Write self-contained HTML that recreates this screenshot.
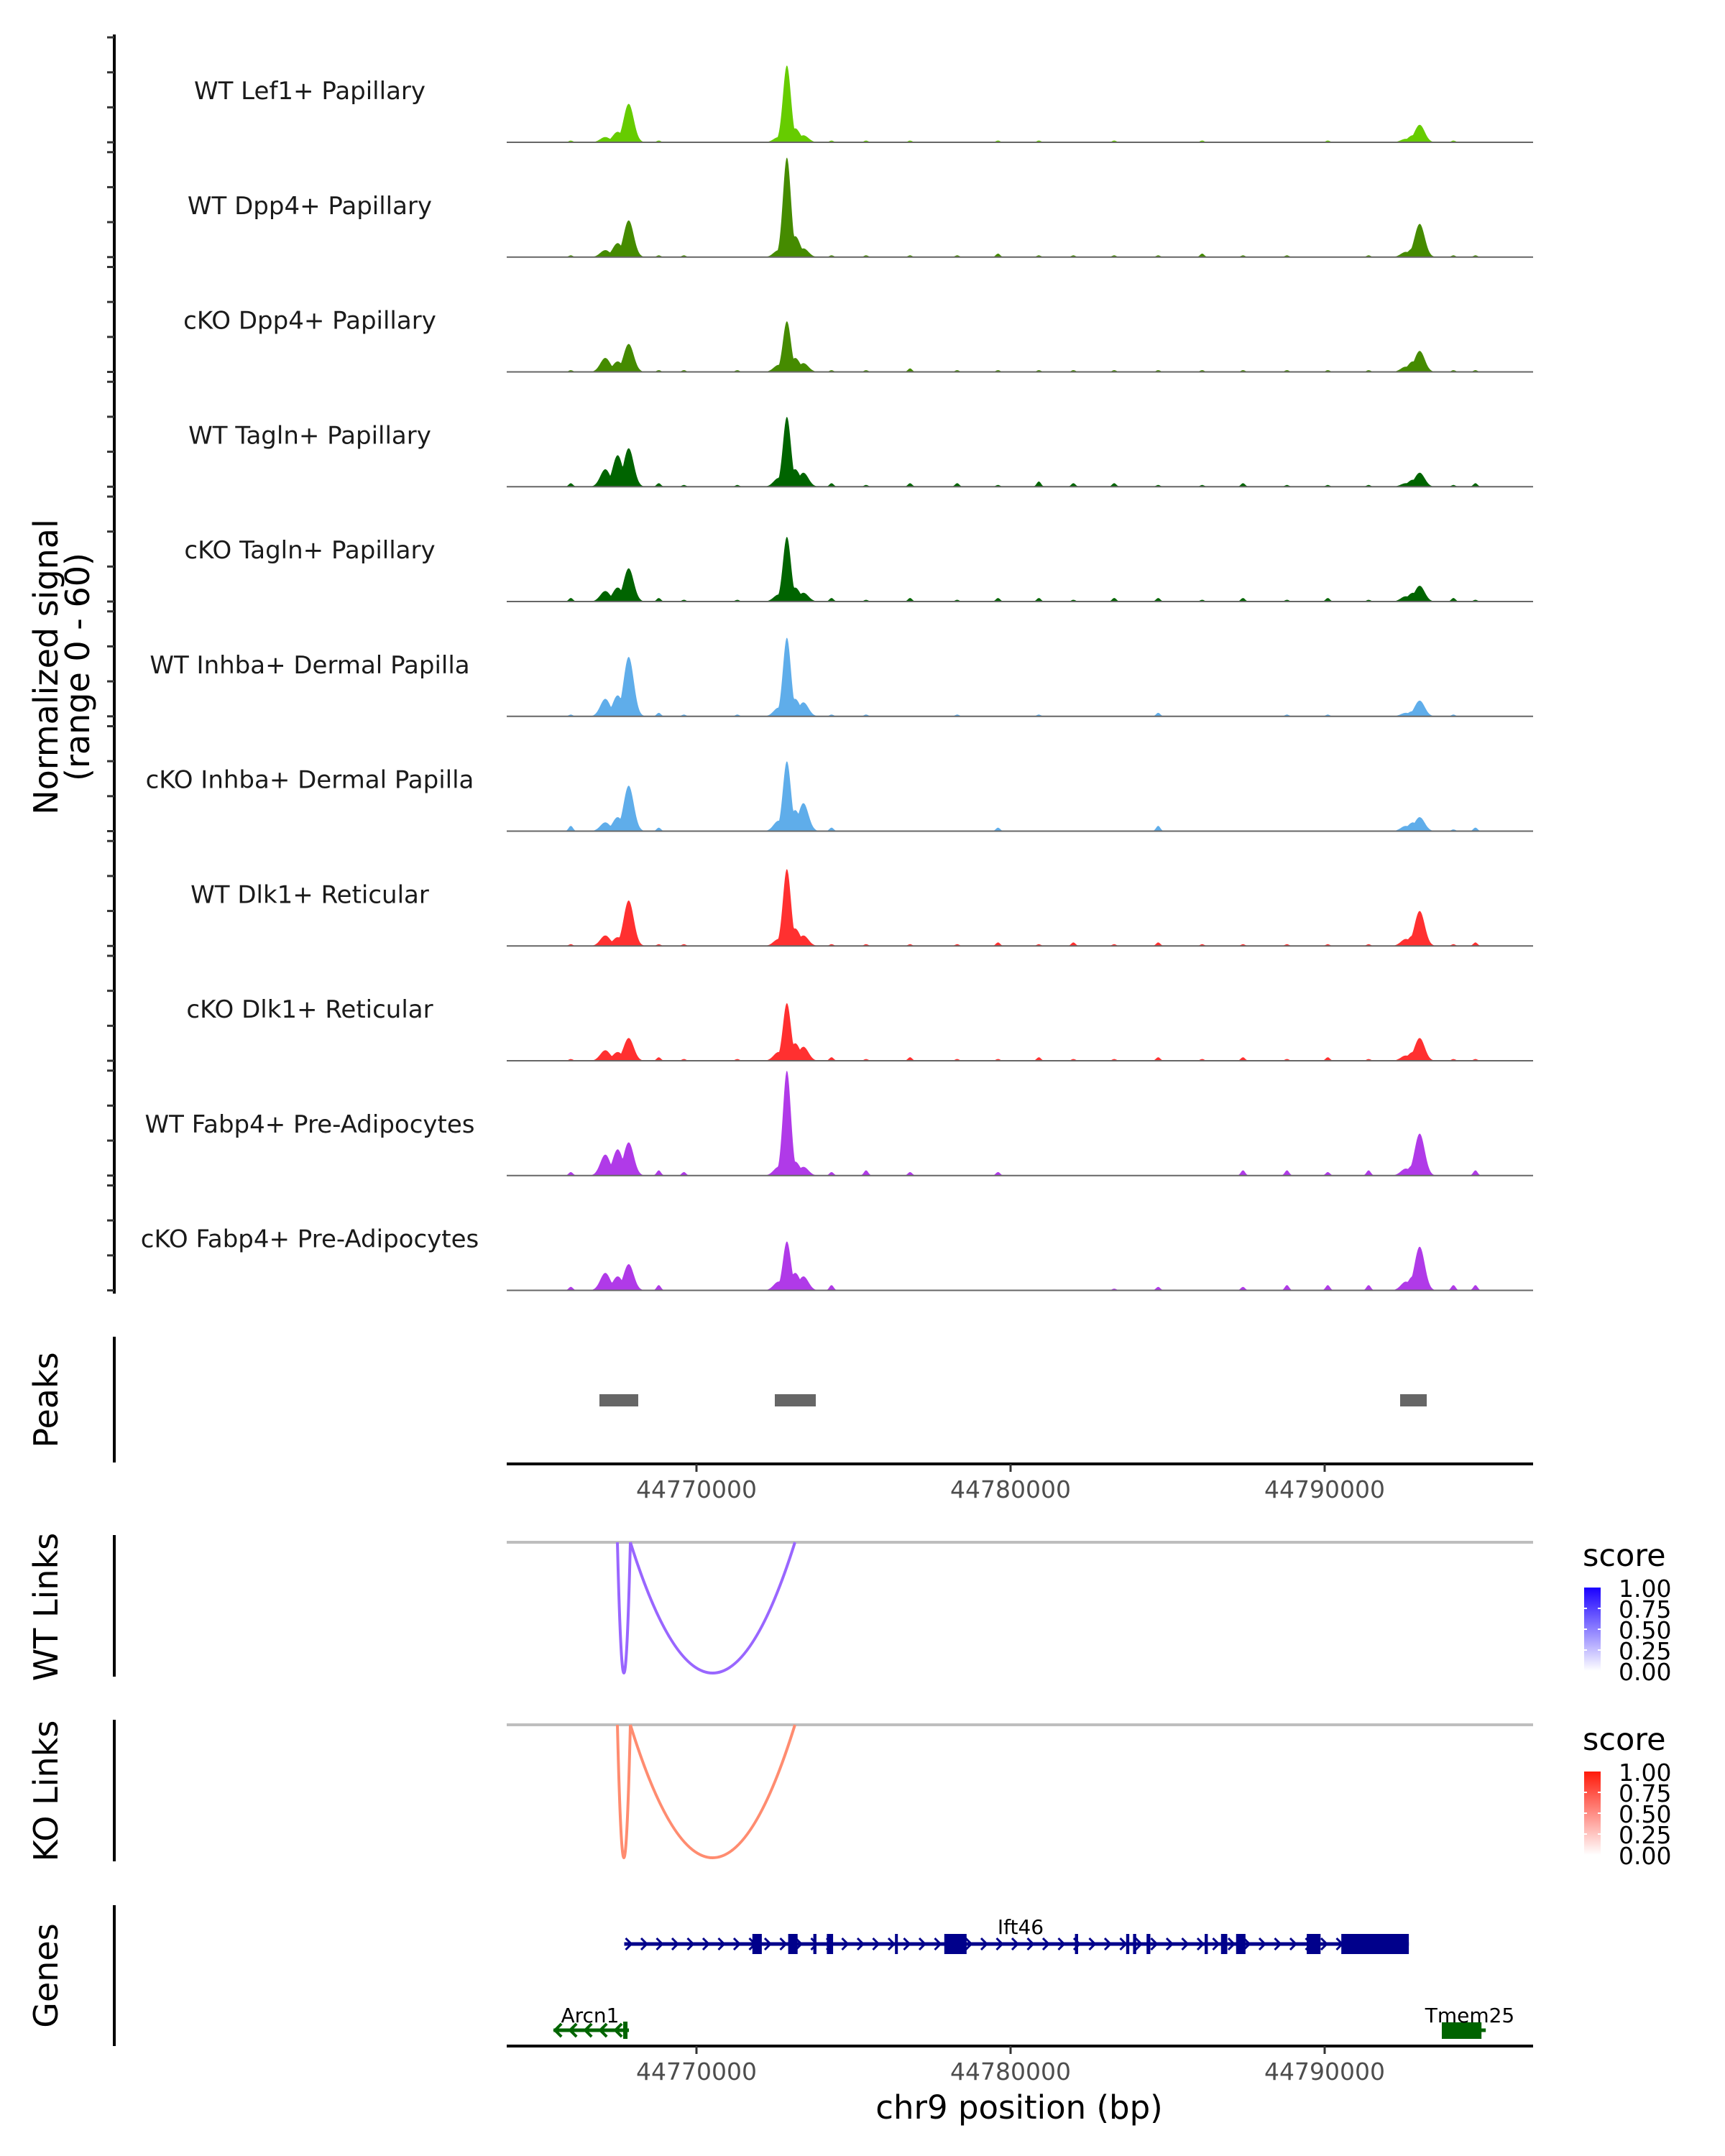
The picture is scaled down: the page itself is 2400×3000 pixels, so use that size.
<!DOCTYPE html>
<html><head><meta charset="utf-8"><style>
html,body{margin:0;padding:0;background:#fff;}
svg{display:block;font-family:"DejaVu Sans","Liberation Sans",sans-serif;}
</style></head><body>
<svg id="chart" width="2400" height="3000" viewBox="0 0 2400 3000" xmlns="http://www.w3.org/2000/svg"></svg>
<script>
const trackNames = ["WT Lef1+ Papillary","WT Dpp4+ Papillary","cKO Dpp4+ Papillary","WT Tagln+ Papillary","cKO Tagln+ Papillary","WT Inhba+ Dermal Papilla","cKO Inhba+ Dermal Papilla","WT Dlk1+ Reticular","cKO Dlk1+ Reticular","WT Fabp4+ Pre-Adipocytes","cKO Fabp4+ Pre-Adipocytes"];
const trackColors = ["#66cc00","#458b00","#458b00","#006400","#006400","#5fadea","#5fadea","#ff3030","#ff3030","#b03ae8","#b03ae8"];
const peakPositions = [44767098,44767492,44767842,44772616,44772879,44773142,44773405,44792586,44792807,44793025];
const peakHeights = [
 [3,6,22,3,44,8,4,2,4,10],
 [4,8,21,4,57,12,5,3,5,19],
 [8,6,16,4,29,8,5,3,6,12],
 [10,18,22,5,40,10,8,2,4,8],
 [6,8,19,4,37,8,5,3,5,9],
 [10,12,34,5,45,10,8,2,3,9],
 [5,8,26,6,40,12,16,3,5,8],
 [6,5,26,4,44,10,6,4,6,20],
 [6,5,13,5,33,10,8,3,5,13],
 [12,15,19,5,60,8,5,4,6,24],
 [10,8,15,5,28,10,8,5,8,25]];
const noisePositions = [44766000,44768800,44769600,44771300,44774300,44775400,44776800,44778300,44779600,44780900,44782000,44783300,44784700,44786100,44787400,44788800,44790100,44791400,44794100,44794800];
const noiseHeights = [
 [1,1,0,0,1,1,1,0,1,1,0,1,0,1,0,0,1,0,1,0],
 [1,1,1,0,1,1,1,1,2,1,1,1,1,2,1,1,0,1,1,1],
 [1,1,1,1,1,1,2,1,1,1,1,1,1,1,1,1,1,1,1,1],
 [2,2,1,1,2,1,2,2,1,3,2,2,1,1,2,1,1,1,1,2],
 [2,2,1,1,2,1,2,1,2,2,1,2,2,1,2,1,2,1,2,1],
 [1,2,1,1,1,1,0,1,0,1,0,0,2,0,0,1,1,0,1,0],
 [3,2,0,0,2,0,0,0,2,0,0,0,3,0,0,0,0,0,1,2],
 [1,1,1,0,1,1,1,1,2,1,2,1,2,1,1,1,1,1,1,2],
 [1,2,1,1,2,1,2,1,1,2,1,1,2,1,2,1,2,1,1,1],
 [2,3,2,0,2,3,2,0,2,0,0,0,0,0,3,3,2,3,0,3],
 [2,3,0,0,3,0,0,0,0,0,0,1,2,0,2,3,3,3,3,3]];
const peakRegions = [[44766911,44768146],[44772494,44773799],[44792403,44793250]];
const wtLinks = [[44767483,44767895,1.0],[44767895,44773135,1.0]];
const koLinks = [[44767483,44767895,1.0],[44767895,44773135,1.0]];
const xTicks = [44770000,44780000,44790000];
const legendTicks = ["1.00","0.75","0.50","0.25","0.00"];
const ift46Exons = [[44771780,44772080],[44772920,44773220],[44773720,44773820],[44774150,44774350],[44776320,44776400],[44777890,44778600],[44782050,44782150],[44783680,44783780],[44783900,44784000],[44784330,44784450],[44786180,44786280],[44786700,44786900],[44787180,44787480],[44789430,44789870],[44790530,44792680]];
const ift46Range = [44767700,44792680];
const arcn1Range = [44765450,44767850];
const tmem25Range = [44793730,44795130];

const svg = document.getElementById('chart');
const NS = "http://www.w3.org/2000/svg";
const X0 = 969, PXBP = 0.0437, PLOT_L = 705, PLOT_R = 2133;
function xs(bp){ return X0 + (bp - 44770000) * PXBP; }
function mk(tag, attrs, parent){ const e = document.createElementNS(NS, tag); for (const k in attrs) e.setAttribute(k, attrs[k]); (parent||svg).appendChild(e); return e; }
function txt(s, attrs, parent){ const e = mk('text', attrs, parent); e.textContent = s; return e; }

const axisG = mk('g', {});


mk('line', {x1:159, y1:48, x2:159, y2:1800, stroke:'#000', 'stroke-width':4}, axisG);

const TRACK_H = 146, BASE0 = 198, STEP = 159.75;
function ys(v, i){ return BASE0 + i*STEP - v/60*TRACK_H; }
for (let i = 0; i < trackNames.length; i++) {
  const g = mk('g', {});
  
  
  for (let k = 0; k <= 3; k++) {
    const ty = ys(k*20, i);
    mk('line', {x1:149, y1:ty, x2:159, y2:ty, stroke:'#333', 'stroke-width':3}, axisG);
  }
  let d = 'M' + PLOT_L + ',' + ys(0,i);
  for (let x = PLOT_L; x <= PLOT_R; x += 1) {
    let h = 0;
    for (let p = 0; p < peakPositions.length; p++) {
      const s = (p === 4) ? 5.5 : 7;
      const dx = (x - xs(peakPositions[p])) / s;
      h = Math.max(h, peakHeights[i][p] * Math.exp(-dx*dx/2));
    }
    for (let p = 0; p < noisePositions.length; p++) {
      const dx = (x - xs(noisePositions[p])) / 3;
      h = Math.max(h, noiseHeights[i][p] * Math.exp(-dx*dx/2));
    }
    d += ' L' + x + ',' + ys(h, i).toFixed(1);
  }
  d += ' L' + PLOT_R + ',' + ys(0,i) + ' Z';
  const area = mk('path', {d:d, fill:trackColors[i]}, g);
  
  
  mk('line', {x1:PLOT_L, y1:ys(0,i), x2:PLOT_R, y2:ys(0,i), stroke:'#666', 'stroke-width':2}, g);
  const lab = txt(trackNames[i], {x:431, y:ys(0,i)-60, 'text-anchor':'middle', 'font-size':34, fill:'#1a1a1a'}, g);
  
  
}
const yt = txt('', {transform:'translate(0,928) rotate(-90)', 'text-anchor':'middle', 'font-size':46, fill:'#000'});


mk('tspan', {x:0, y:80}, yt).textContent = 'Normalized signal';
mk('tspan', {x:0, y:124}, yt).textContent = '(range 0 - 60)';

function sideLabel(s, cy, name){ const t = txt(s, {transform:'translate(80,'+cy+') rotate(-90)', 'text-anchor':'middle', 'font-size':46, fill:'#000'});   }
sideLabel('Peaks', 1948, 'peaks-label');
sideLabel('WT Links', 2236, 'wt-links-label');
sideLabel('KO Links', 2492, 'ko-links-label');
sideLabel('Genes', 2749, 'genes-label');

mk('line', {x1:159, y1:1860, x2:159, y2:2035, stroke:'#000', 'stroke-width':4});
for (const r of peakRegions) {
  const b = mk('rect', {x:xs(r[0]), y:1940, width:xs(r[1])-xs(r[0]), height:17, fill:'#666'});
  
  
}
function xAxis(y, name){
  const g = mk('g', {});
  
  
  mk('line', {x1:PLOT_L, y1:y, x2:PLOT_R, y2:y, stroke:'#000', 'stroke-width':4}, g);
  for (const t of xTicks) {
    mk('line', {x1:xs(t), y1:y, x2:xs(t), y2:y+11, stroke:'#333', 'stroke-width':3}, g);
    txt(String(t), {x:xs(t), y:y+47, 'text-anchor':'middle', 'font-size':33, fill:'#4d4d4d'}, g);
  }
}
xAxis(2037, 'peaks-x-axis');

function links(data, grayY, minY, color, axTop, axBot, name){
  const g = mk('g', {});
  
  
  mk('line', {x1:159, y1:axTop, x2:159, y2:axBot, stroke:'#000', 'stroke-width':4});
  mk('line', {x1:PLOT_L, y1:grayY, x2:PLOT_R, y2:grayY, stroke:'#bebebe', 'stroke-width':4}, g);
  for (const l of data) {
    const x1 = xs(l[0]), x2 = xs(l[1]);
    const apex = grayY + (minY - grayY) * l[2];
    const cy = 2*apex - grayY;
    const p = mk('path', {d:'M'+x1+','+grayY+' Q'+((x1+x2)/2)+','+cy+' '+x2+','+grayY, fill:'none', stroke:color, 'stroke-width':4}, g);
    
    
  }
}
links(wtLinks, 2146, 2328, '#9966ff', 2136, 2333, 'wt-links-track');
links(koLinks, 2400, 2585, '#ff8c70', 2393, 2590, 'ko-links-track');

const defs = mk('defs', {});
const gb = mk('linearGradient', {id:'gb', x1:0, y1:1, x2:0, y2:0}, defs);
mk('stop', {offset:0, 'stop-color':'#ffffff'}, gb); mk('stop', {offset:1, 'stop-color':'#1a00ff'}, gb);
const gr = mk('linearGradient', {id:'gr', x1:0, y1:1, x2:0, y2:0}, defs);
mk('stop', {offset:0, 'stop-color':'#ffffff'}, gr); mk('stop', {offset:1, 'stop-color':'#ff1a0a'}, gr);
function legend(top, grad, name){
  const g = mk('g', {});
  
  
  txt('score', {x:2202, y:top-30, 'font-size':43, fill:'#000'}, g);
  mk('rect', {x:2204, y:top, width:23, height:116, fill:'url(#'+grad+')'}, g);
  for (let k = 0; k < legendTicks.length; k++) {
    txt(legendTicks[k], {x:2252, y:top+13+k*29, 'font-size':33, fill:'#000'}, g);
    if (k>0 && k<4) { mk('line', {x1:2204, y1:top+k*29, x2:2208, y2:top+k*29, stroke:'#fff', 'stroke-width':2}, g); mk('line', {x1:2223, y1:top+k*29, x2:2227, y2:top+k*29, stroke:'#fff', 'stroke-width':2}, g); }
  }
}
legend(2209, 'gb', 'wt-score-legend');
legend(2465, 'gr', 'ko-score-legend');

mk('line', {x1:159, y1:2651, x2:159, y2:2847, stroke:'#000', 'stroke-width':4});
const gg = mk('g', {});


const gy = 2705;
mk('line', {x1:xs(ift46Range[0]), y1:gy, x2:xs(ift46Range[1]), y2:gy, stroke:'#00008b', 'stroke-width':5}, gg);
for (let x = xs(ift46Range[0]) + 6; x < xs(ift46Range[1]) - 10; x += 21.5) {
  mk('polyline', {points:(x-4)+','+(gy-8)+' '+(x+4)+','+gy+' '+(x-4)+','+(gy+8), fill:'none', stroke:'#00008b', 'stroke-width':3}, gg);
}
for (const e of ift46Exons) {
  mk('rect', {x:xs(e[0]), y:gy-14, width:Math.max(4, xs(e[1])-xs(e[0])), height:28, fill:'#00008b'}, gg);
}
txt('Ift46', {x:1420, y:2691, 'text-anchor':'middle', 'font-size':28, fill:'#000'}, gg);

const ag = mk('g', {});


const ay = 2825;
mk('line', {x1:xs(arcn1Range[0]), y1:ay, x2:xs(arcn1Range[1]), y2:ay, stroke:'#006400', 'stroke-width':5}, ag);
for (let x = xs(arcn1Range[0]) + 6; x < xs(arcn1Range[1]) - 6; x += 21) {
  mk('polyline', {points:(x+5)+','+(ay-9)+' '+(x-4)+','+ay+' '+(x+5)+','+(ay+9), fill:'none', stroke:'#006400', 'stroke-width':4}, ag);
}
mk('rect', {x:xs(arcn1Range[1])-8, y:ay-12, width:6, height:24, fill:'#006400'}, ag);
txt('Arcn1', {x:821, y:2814, 'text-anchor':'middle', 'font-size':28, fill:'#000'}, ag);

const tg = mk('g', {});


mk('line', {x1:xs(tmem25Range[0]), y1:ay, x2:xs(tmem25Range[1]), y2:ay, stroke:'#006400', 'stroke-width':5}, tg);
mk('rect', {x:xs(tmem25Range[0]), y:2814, width:xs(tmem25Range[1])-xs(tmem25Range[0])-6, height:23, fill:'#006400'}, tg);
txt('Tmem25', {x:2045, y:2814, 'text-anchor':'middle', 'font-size':28, fill:'#000'}, tg);

xAxis(2847, 'genes-x-axis');
const xt = txt('chr9 position (bp)', {x:1418, y:2948, 'text-anchor':'middle', 'font-size':45, fill:'#000'});


</script>
</body></html>
